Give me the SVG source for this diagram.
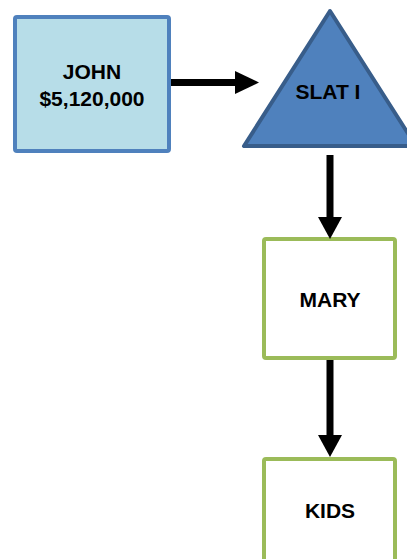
<svg xmlns="http://www.w3.org/2000/svg" width="407" height="559" viewBox="0 0 407 559">
<style>
.lbl{font-family:"Liberation Sans",Arial,sans-serif;font-weight:bold;font-size:21px;fill:#000;text-anchor:middle}
.grn{fill:#fff;stroke:#9bbb59;stroke-width:4}
.conn{stroke:#000;stroke-width:7;fill:none}
.head{fill:#000}
</style>
<rect width="407" height="559" fill="#fff"/>
<g id="john">
<rect x="15" y="17" width="154" height="134" rx="2" fill="#b7dde8" stroke="#4f81bd" stroke-width="4"/>
<text class="lbl" x="92" y="79">JOHN</text>
<text class="lbl" x="92" y="106">$5,120,000</text>
</g>
<g id="slat">
<polygon points="330,11 244,146 416,146" fill="#4f81bd" stroke="#385d8a" stroke-width="4" stroke-linejoin="round"/>
<text class="lbl" x="328" y="99">SLAT I</text>
</g>
<g id="mary">
<rect class="grn" x="264" y="239" width="131" height="119" rx="2"/>
<text class="lbl" x="330" y="307">MARY</text>
</g>
<g id="kids">
<rect class="grn" x="264" y="459" width="131" height="130" rx="2"/>
<text class="lbl" x="330" y="518">KIDS</text>
</g>
<g id="connectors">
<line class="conn" x1="171" y1="82.5" x2="237" y2="82.5"/>
<polygon class="head" points="235,71 259,82.5 235,94"/>
<line class="conn" x1="330" y1="155" x2="330" y2="219"/>
<polygon class="head" points="318,217 342,217 330,239"/>
<line class="conn" x1="330" y1="360" x2="330" y2="437"/>
<polygon class="head" points="318,435 342,435 330,457"/>
</g>
</svg>
